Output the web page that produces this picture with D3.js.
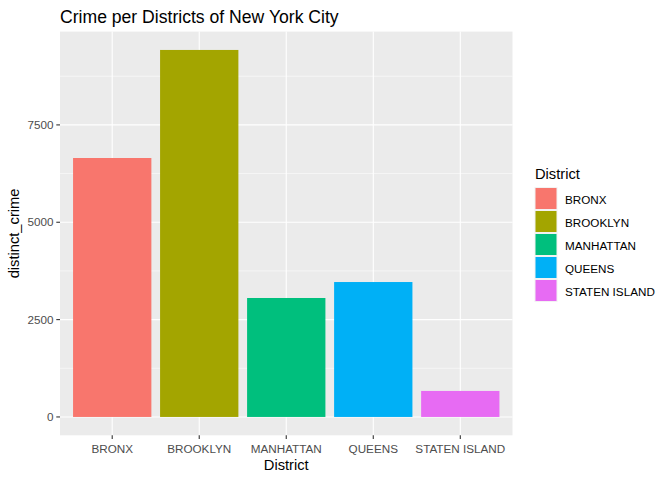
<!DOCTYPE html>
<html><head><meta charset="utf-8">
<script src="https://cdn.jsdelivr.net/npm/d3@7"></script>
<style>body{margin:0;background:#fff}svg{display:block;font-family:"Liberation Sans",Arial,sans-serif}</style>
</head><body><svg id="c" width="672" height="480"></svg>
<script>
const districts = ["BRONX","BROOKLYN","MANHATTAN","QUEENS","STATEN ISLAND"];
const crimeCounts = [6650, 9425, 3055, 3465, 668];
const colors = ["#F8766D","#A3A500","#00BF7D","#00B0F6","#E76BF3"];
const yTicks = [0, 2500, 5000, 7500];
const yMinor = [1250, 3750, 6250, 8750];

const svg = d3.select("#c");
const L = 60, R = 512.5, T = 31.6, B = 435.3;
const maxV = d3.max(crimeCounts);
const y = d3.scaleLinear().domain([-0.05*maxV, 1.05*maxV]).range([B, T]);
// ggplot discrete expand: 0.6 units each side
const x = d3.scalePoint().domain(districts).range([L, R]).padding(0.6);
const step = x.step();
const color = d3.scaleOrdinal().domain(districts).range(colors);

svg.append("rect").attr("x",L).attr("y",T).attr("width",R-L).attr("height",B-T).attr("fill","#EBEBEB");
svg.append("g").selectAll("line").data(yMinor).join("line")
  .attr("x1",L).attr("x2",R).attr("y1",d=>y(d)).attr("y2",d=>y(d)).attr("stroke","#fff").attr("stroke-width",0.55);
svg.append("g").selectAll("line").data(yTicks).join("line")
  .attr("x1",L).attr("x2",R).attr("y1",d=>y(d)).attr("y2",d=>y(d)).attr("stroke","#fff").attr("stroke-width",1.1);
svg.append("g").selectAll("line").data(districts).join("line")
  .attr("y1",T).attr("y2",B).attr("x1",d=>x(d)).attr("x2",d=>x(d)).attr("stroke","#fff").attr("stroke-width",1.1);

const bw = 0.9*step;
svg.append("g").selectAll("rect").data(districts).join("rect")
  .attr("x",d=>x(d)-bw/2).attr("width",bw)
  .attr("y",(d,i)=>y(crimeCounts[i])).attr("height",(d,i)=>y(0)-y(crimeCounts[i]))
  .attr("fill",d=>color(d));

// Y axis
const ya = svg.append("g");
ya.selectAll("line").data(yTicks).join("line")
  .attr("x1",L-3.7).attr("x2",L).attr("y1",d=>y(d)).attr("y2",d=>y(d)).attr("stroke","#333").attr("stroke-width",1.1);
ya.selectAll("text").data(yTicks).join("text")
  .attr("x",L-6.5).attr("y",d=>y(d)).attr("dy","0.35em").attr("text-anchor","end")
  .attr("font-size","11.7px").attr("fill","#4D4D4D").text(d=>d);
// X axis
const xa = svg.append("g");
xa.selectAll("line").data(districts).join("line")
  .attr("x1",d=>x(d)).attr("x2",d=>x(d)).attr("y1",B).attr("y2",B+3.7).attr("stroke","#333").attr("stroke-width",1.1);
xa.selectAll("text").data(districts).join("text")
  .attr("x",d=>x(d)).attr("y",453).attr("text-anchor","middle")
  .attr("font-size","11.7px").attr("fill","#4D4D4D").text(d=>d);

svg.append("text").attr("x",(L+R)/2).attr("y",470).attr("text-anchor","middle").attr("font-size","14.7px").attr("fill","#000").text("District");
svg.append("text").attr("transform",`translate(19,${(T+B)/2}) rotate(-90)`).attr("text-anchor","middle").attr("font-size","14.7px").attr("fill","#000").text("distinct_crime");
svg.append("text").attr("x",60).attr("y",23).attr("font-size","17.6px").attr("fill","#000").text("Crime per Districts of New York City");

// Legend
const lg = svg.append("g");
lg.append("text").attr("x",535).attr("y",179).attr("font-size","14.7px").attr("fill","#000").text("District");
const kh = 23;
lg.selectAll("rect").data(districts).join("rect")
  .attr("x",535).attr("y",(d,i)=>187.5+i*kh).attr("width",kh-1).attr("height",kh-1)
  .attr("fill",d=>color(d)).attr("stroke","#F2F2F2").attr("stroke-width",1);
lg.selectAll("text.k").data(districts).join("text").attr("class","k")
  .attr("x",565).attr("y",(d,i)=>187.5+i*kh+(kh-1)/2 + 1).attr("dy","0.35em")
  .attr("font-size","11.7px").attr("fill","#000").text(d=>d);
</script></body></html>
